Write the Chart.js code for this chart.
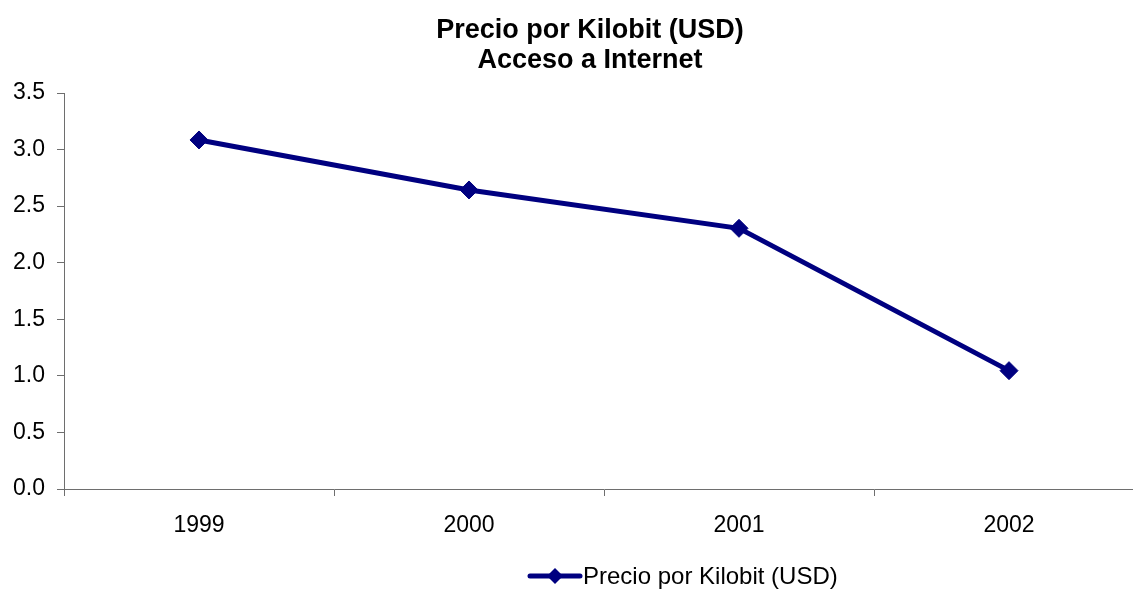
<!DOCTYPE html>
<html>
<head>
<meta charset="utf-8">
<script src="https://cdn.jsdelivr.net/npm/chart.js@4"></script>
<style>
  html, body { margin: 0; padding: 0; background: #fff; overflow: hidden; }
  #wrap { width: 1180px; height: 589px; }
</style>
</head>
<body>
<div id="wrap"><canvas id="chart"></canvas></div>
<script>
// chart data
const years = ['1999', '2000', '2001', '2002'];
const precioKilobit = [3.085, 2.643, 2.304, 1.046];
const seriesName = 'Precio por Kilobit (USD)';
const titleLines = ['Precio por Kilobit (USD)', 'Acceso a Internet'];

const navy = '#000080';
const axisGray = '#6e6e6e';
const fontFamily = '"Liberation Sans", Arial, sans-serif';

// legend drawn by hand: line with a diamond, then the label
const lineLegend = {
  id: 'lineLegend',
  afterDraw(chart) {
    const ctx = chart.ctx;
    const y = 576;
    const x0 = 530;
    ctx.save();
    ctx.strokeStyle = navy;
    ctx.lineWidth = 5;
    ctx.lineCap = 'round';
    ctx.beginPath();
    ctx.moveTo(x0, y);
    ctx.lineTo(x0 + 50, y);
    ctx.stroke();
    ctx.fillStyle = navy;
    ctx.beginPath();
    ctx.moveTo(x0 + 25, y - 8);
    ctx.lineTo(x0 + 33, y);
    ctx.lineTo(x0 + 25, y + 8);
    ctx.lineTo(x0 + 17, y);
    ctx.closePath();
    ctx.fill();
    ctx.fillStyle = '#000';
    ctx.font = '24px ' + fontFamily;
    ctx.textBaseline = 'middle';
    ctx.textAlign = 'left';
    ctx.fillText(seriesName, x0 + 53, y + 1);
    ctx.restore();
  }
};

new Chart(document.getElementById('chart'), {
  type: 'line',
  data: {
    labels: years,
    datasets: [{
      label: seriesName,
      data: precioKilobit,
      borderColor: navy,
      backgroundColor: navy,
      borderWidth: 5,
      pointStyle: 'rectRot',
      pointRadius: 9,
      pointBorderWidth: 1,
      pointBackgroundColor: navy,
      pointBorderColor: navy,
      tension: 0,
      fill: false,
    }],
  },
  options: {
    responsive: true,
    maintainAspectRatio: false,
    animation: false,
    layout: {padding: 0},
    plugins: {
      legend: {display: false},
      tooltip: {enabled: false},
      title: {
        display: true,
        text: titleLines,
        color: '#000',
        font: {family: fontFamily, size: 27, weight: 'bold', lineHeight: 30 / 27},
        padding: {top: 16, bottom: 17},
      },
    },
    scales: {
      x: {
        offset: true,
        grid: {
          offset: true,
          drawOnChartArea: false,
          drawTicks: true,
          tickLength: 7,
          color: axisGray,
        },
        border: {display: true, color: axisGray, width: 1},
        ticks: {
          color: '#000',
          font: {family: fontFamily, size: 23},
          padding: 16,
          maxRotation: 0,
          autoSkip: false,
        },
        afterFit(scale) { scale.height = 100; },
      },
      y: {
        min: 0,
        max: 3.5,
        grid: {
          drawOnChartArea: false,
          drawTicks: true,
          tickLength: 7,
          color: axisGray,
        },
        border: {display: true, color: axisGray, width: 1},
        ticks: {
          stepSize: 0.5,
          color: '#000',
          font: {family: fontFamily, size: 23},
          padding: 12,
          callback: (v) => Number(v).toFixed(1),
        },
        afterFit(scale) { scale.width = 64; },
      },
      // empty right-hand spacer so the plot stops short of the canvas edge
      spacer: {
        type: 'linear',
        position: 'right',
        grid: {display: false},
        border: {display: false},
        ticks: {display: false},
        afterFit(scale) { scale.width = 36; },
      },
    },
  },
  plugins: [lineLegend],
});
</script>
</body>
</html>
